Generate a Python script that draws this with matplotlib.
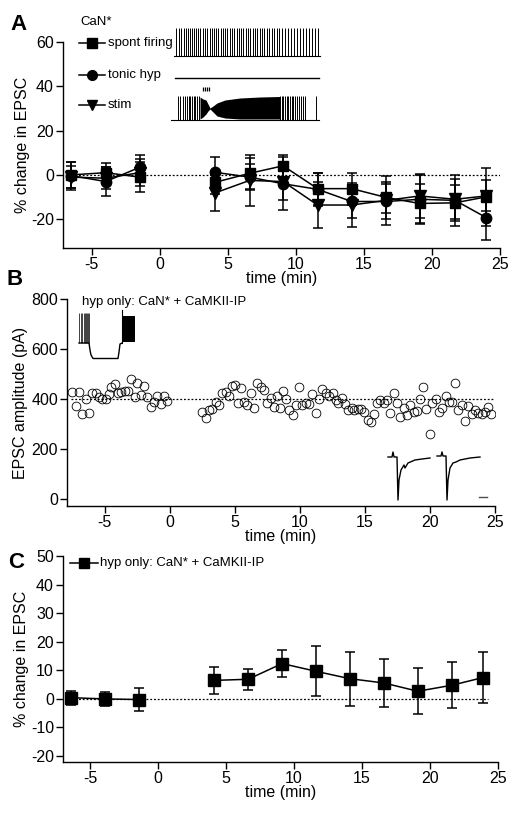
import numpy as np
import matplotlib
matplotlib.use("Agg")
import matplotlib.pyplot as plt

plt.rcParams['font.family'] = ['Liberation Sans', 'DejaVu Sans']
plt.rcParams['font.size'] = 11.5
plt.rcParams['axes.linewidth'] = 1.0
plt.rcParams['axes.unicode_minus'] = False

# ---------------- data: panel A (% change in EPSC, CaN*) ----------------
a_time = [-6.5, -3.97, -1.47, 4.04, 6.6, 9.07, 11.6, 14.1, 16.65, 19.1, 21.7, 24.0]
a_spont = [0.0, 1.0, -1.0, -3.4, 0.7, 4.1, -6.2, -6.2, -10.2, -12.9, -12.6, -9.9]
a_spont_err = [6.0, 4.5, 6.6, 5.0, 7.0, 5.0, 7.2, 7.2, 7.0, 9.0, 8.0, 13.0]
a_tonic = [-0.3, -3.0, 3.4, 1.2, -1.0, -4.0, -6.5, -12.0, -12.0, -11.0, -11.5, -19.3]
a_tonic_err = [6.3, 6.6, 5.5, 7.0, 6.0, 12.0, 7.5, 7.4, 8.0, 11.0, 11.5, 10.3]
a_stim = [-1.0, -1.5, 1.0, -8.2, -2.5, -3.0, -13.6, -13.6, -11.5, -9.5, -11.0, -9.5]
a_stim_err = [5.0, 5.0, 6.0, 8.2, 11.5, 8.3, 10.5, 10.0, 11.0, 10.0, 9.0, 7.0]

# ---------------- data: panel B (EPSC amplitude, pA) ----------------
b_time = [-7.49, -7.23, -6.97, -6.72, -6.46, -6.2, -5.95, -5.69, -5.44, -5.18,
          -4.92, -4.67, -4.49, -4.23, -3.97, -3.72, -3.46, -3.21, -3.0, -2.69,
          -2.49, -2.23, -1.97, -1.72, -1.46, -1.21, -0.95, -0.69, -0.44, -0.18,
          2.51, 2.77, 3.03, 3.28, 3.54, 3.79, 4.05, 4.31, 4.56, 4.82,
          5.0, 5.26, 5.46, 5.72, 5.97, 6.23, 6.49, 6.74, 7.0, 7.26,
          7.51, 7.77, 8.03, 8.23, 8.49, 8.74, 8.92, 9.18, 9.44, 9.69,
          9.95, 10.2, 10.46, 10.72, 10.97, 11.23, 11.49, 11.74, 12.0, 12.26,
          12.51, 12.77, 12.95, 13.21, 13.46, 13.72, 13.97, 14.18, 14.44, 14.69,
          14.95, 15.21, 15.46, 15.72, 15.92, 16.18, 16.44, 16.69, 16.95, 17.21,
          17.46, 17.72, 17.97, 18.23, 18.49, 18.74, 19.0, 19.21, 19.46, 19.72,
          19.97, 20.18, 20.44, 20.69, 20.95, 21.21, 21.46, 21.67, 21.92, 22.18,
          22.44, 22.69, 22.95, 23.21, 23.46, 23.72, 23.97, 24.23, 24.49, 24.69]
b_amp = [429, 373, 429, 340, 400, 343, 423, 423, 409, 399,
         399, 420, 447, 460, 425, 429, 432, 432, 480, 407,
         465, 416, 452, 407, 369, 389, 413, 379, 412, 393,
         347, 325, 356, 360, 389, 376, 423, 429, 413, 452,
         456, 383, 443, 389, 376, 423, 365, 463, 449, 436,
         383, 403, 369, 413, 365, 433, 401, 356, 336, 376,
         449, 376, 383, 379, 419, 343, 400, 440, 423, 413,
         425, 396, 385, 405, 379, 356, 363, 356, 359, 359,
         349, 316, 308, 339, 383, 396, 383, 396, 345, 425,
         383, 327, 363, 336, 376, 349, 352, 399, 449, 359,
         260, 383, 399, 347, 363, 412, 389, 389, 465, 356,
         376, 313, 372, 340, 356, 343, 340, 349, 369, 340]
b_baseline = 400

# ---------------- data: panel C (% change in EPSC, hyp only) ----------------
c_time = [-6.42, -3.92, -1.4, 4.12, 6.62, 9.12, 11.6, 14.1, 16.6, 19.1, 21.6, 23.9]
c_val = [0.35, -0.1, -0.3, 6.4, 6.8, 12.3, 9.6, 7.0, 5.5, 2.6, 4.7, 7.4]
c_err = [2.5, 2.3, 4.0, 4.7, 3.6, 4.6, 8.7, 9.4, 8.4, 8.1, 8.0, 8.8]

xticks = [-5, 0, 5, 10, 15, 20, 25]

W, H = 515, 822
fig = plt.figure(figsize=(W / 100, H / 100), dpi=100)


def px_axes(left, top, right, bottom):
    return fig.add_axes([left / W, 1 - bottom / H, (right - left) / W, (bottom - top) / H])


def style(ax):
    for s in ['top', 'right']:
        ax.spines[s].set_visible(False)
    ax.tick_params(direction='out', length=5, width=1.0, labelsize=11.5, pad=1.5)


ebkw = dict(color='k', ecolor='k', elinewidth=1.1, capsize=3.5, capthick=1.1,
            linewidth=1.1, markeredgecolor='k', markerfacecolor='k')

# ---- Panel A
axA = px_axes(63, 42, 500, 248)
axA.errorbar(a_time[:3], a_spont[:3], yerr=a_spont_err[:3], marker='s', ms=7.5, **ebkw)
axA.errorbar(a_time[3:], a_spont[3:], yerr=a_spont_err[3:], marker='s', ms=7.5, **ebkw)
axA.errorbar(a_time[:3], a_tonic[:3], yerr=a_tonic_err[:3], marker='o', ms=7.5, **ebkw)
axA.errorbar(a_time[3:], a_tonic[3:], yerr=a_tonic_err[3:], marker='o', ms=7.5, **ebkw)
axA.errorbar(a_time[:3], a_stim[:3], yerr=a_stim_err[:3], marker='v', ms=8, **ebkw)
axA.errorbar(a_time[3:], a_stim[3:], yerr=a_stim_err[3:], marker='v', ms=8, **ebkw)
axA.plot([a_time[0], 25], [0, 0], color='k', ls=(0, (1.5, 1.5)), lw=0.9, zorder=0)
axA.set_xlim(-7.1, 25)
axA.set_ylim(-33, 60)
axA.set_yticks([-20, 0, 20, 40, 60])
axA.set_xticks(xticks)
axA.set_xlabel('time (min)', fontsize=11.5, labelpad=-1)
axA.set_ylabel('% change in EPSC', fontsize=11.5, labelpad=1)
style(axA)

# ---- Panel B
axB = px_axes(67, 299, 495, 506)
axB.plot(b_time, b_amp, 'o', ms=6.3, mfc='none', mec='k', mew=0.6)
axB.plot([-7.6, 25], [b_baseline, b_baseline], color='k', ls=(0, (1.5, 1.5)), lw=0.9)
axB.set_xlim(-7.9, 25)
axB.set_ylim(-28, 800)
axB.set_yticks([0, 200, 400, 600, 800])
axB.set_xticks(xticks)
axB.set_xlabel('time (min)', fontsize=11.5, labelpad=-1)
axB.set_ylabel('EPSC amplitude (pA)', fontsize=11.5, labelpad=2)
style(axB)

# ---- Panel C
axC = px_axes(63, 556, 498, 762)
axC.errorbar(c_time[:3], c_val[:3], yerr=c_err[:3], marker='s', ms=8, **ebkw)
axC.errorbar(c_time[3:], c_val[3:], yerr=c_err[3:], marker='s', ms=8, **ebkw)
axC.plot([c_time[0], 24.3], [0, 0], color='k', ls=(0, (1.5, 1.5)), lw=0.9, zorder=0)
axC.set_xlim(-7.0, 25)
axC.set_ylim(-22.2, 50)
axC.set_yticks([-20, -10, 0, 10, 20, 30, 40, 50])
axC.set_xticks(xticks)
axC.set_xlabel('time (min)', fontsize=11.5, labelpad=-1)
axC.set_ylabel('% change in EPSC', fontsize=11.5, labelpad=1)
style(axC)

# ---- overlay in pixel coordinates for labels, legends and example traces
ov = fig.add_axes([0, 0, 1, 1], zorder=10)
ov.set_xlim(0, W)
ov.set_ylim(H, 0)
ov.axis('off')

for lab, x, y in [('A', 10, 24), ('B', 7, 279), ('C', 8, 562)]:
    ov.text(x, y, lab, fontsize=16, fontweight='bold', va='center', ha='left')

# legend A
ov.text(80, 22, 'CaN*', fontsize=9.5, va='center')
for y, m, lab in [(43, 's', 'spont firing'), (75, 'o', 'tonic hyp'), (105, 'v', 'stim')]:
    ov.plot([79, 105], [y, y], color='k', lw=1.1)
    ov.plot([92], [y], marker=m, color='k', ms=7)
    ov.text(108, y, lab, fontsize=9.5, va='center')

# legend C
ov.plot([70, 98], [563, 563], color='k', lw=1.1)
ov.plot([84], [563], marker='s', color='k', ms=7)
ov.text(100, 563, 'hyp only: CaN* + CaMKII-IP', fontsize=9.5, va='center')

# label B
ov.text(82, 302, 'hyp only: CaN* + CaMKII-IP', fontsize=9.5, va='center')

# spont firing trace
spont_x = [176, 179, 181, 184, 186, 188, 190, 192, 194, 196, 198, 200, 203, 205,
           207, 210, 212, 214, 216, 218, 221, 223, 225, 227, 230, 232, 234, 237,
           239, 241, 243, 246, 248, 250, 253, 255, 257, 260, 262, 264, 267, 269,
           272, 274, 277, 279, 282, 285, 288, 291, 294, 297, 300, 303, 306, 309,
           312, 315, 318]
ov.plot([174, 320], [56, 56], color='k', lw=0.8)
ov.vlines(spont_x, 28, 56, color='k', lw=0.7)

# tonic hyp trace
ov.plot([175, 319], [78, 78], color='k', lw=1.0)

# stim trace
stim_pre = [178, 180, 183, 185, 187, 189, 190, 192, 194, 195, 197, 199]
stim_post = [280, 282, 283, 285, 287, 288, 290, 292, 293, 295, 297, 299, 301, 303, 305, 316]
ov.plot([171, 319], [120.5, 120.5], color='k', lw=0.8)
ov.vlines(stim_pre, 96, 120, color='k', lw=0.7)
ov.vlines(stim_post, 96, 120, color='k', lw=0.7)
ov.vlines([203, 205, 207, 209], 87, 91.5, color='k', lw=0.9)
bx = [200, 203, 206, 208, 210, 213, 217, 225, 240, 260, 280]
btop = [97, 99, 100, 104, 108, 106, 103, 100, 98, 97, 96.5]
bbot = [119, 117, 114, 111, 109, 112, 116, 118, 119, 119, 119]
ov.fill_between(bx, btop, bbot, color='k', lw=0)

# panel B inset: firing, hyperpolarisation, firing
ov.vlines([79, 80.5, 82, 83.5, 85, 86, 87, 88, 89], 313, 343, color='0.25', lw=0.7)
ov.plot([79, 89, 90, 91, 93, 118, 119, 120, 122], [343, 343, 350, 355, 358.5, 358.5, 352, 344, 343],
        color='k', lw=1.0)
ov.plot([122, 122], [343, 310], color='k', lw=0.8)
ov.fill_between([122, 135], [316, 316], [342, 342], color='k', lw=0)

# panel B inset: EPSC traces and scale bar
ov.plot([388, 392, 393, 394, 397, 398, 399, 401, 404, 405, 408, 415, 422, 430],
        [457, 457, 452, 457, 457, 500, 480, 470, 465, 468, 463, 460, 459, 458], color='k', lw=1.0)
ov.plot([437, 441, 442, 443, 446, 447, 448, 450, 453, 456, 460, 470, 480],
        [456, 456, 452, 456, 456, 500, 480, 468, 463, 462, 460, 458, 457], color='k', lw=1.0)
ov.plot([479, 487], [497, 497], color='0.3', lw=1.0)

fig.savefig('out.png', dpi=100)
